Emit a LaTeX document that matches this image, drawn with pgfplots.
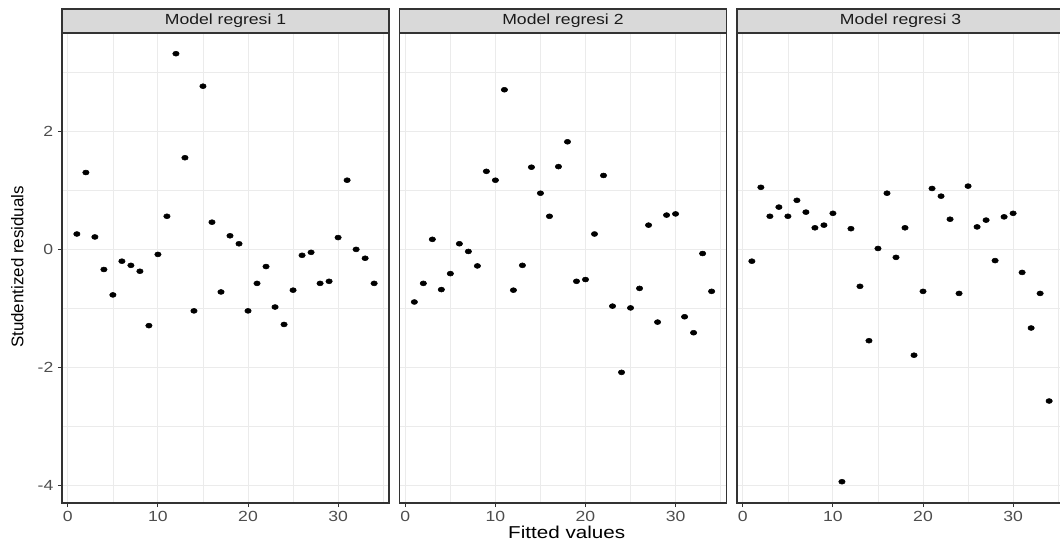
\documentclass[border=0pt]{standalone}
\usepackage{fontspec}
\setmainfont[FakeStretch=1.2]{Liberation Sans}
\newfontfamily\plainsans{Liberation Sans}
\usepackage{pgfplots}
\usepackage{pgfplotstable}
\pgfplotsset{compat=1.18}
\definecolor{grey10}{HTML}{1A1A1A}
\definecolor{grey20}{HTML}{333333}
\definecolor{grey30}{HTML}{4D4D4D}
\definecolor{grey85}{HTML}{D9D9D9}
\definecolor{grey92}{HTML}{EBEBEB}

% studentized residuals per observation, three models
\pgfplotstableread{
i  m1     m2     m3
1  0.26   -0.89  -0.20
2  1.30   -0.575 1.05
3  0.21   0.17   0.56
4  -0.34  -0.68  0.715
5  -0.77  -0.41  0.56
6  -0.20  0.095  0.83
7  -0.27  -0.035 0.63
8  -0.37  -0.28  0.365
9  -1.29  1.32   0.41
10 -0.085 1.17   0.61
11 0.56   2.70   -3.93
12 3.31   -0.69  0.35
13 1.55   -0.27  -0.625
14 -1.04  1.39   -1.545
15 2.76   0.95   0.015
16 0.46   0.56   0.95
17 -0.72  1.40   -0.135
18 0.23   1.82   0.365
19 0.095  -0.54  -1.79
20 -1.04  -0.51  -0.71
21 -0.575 0.26   1.03
22 -0.29  1.25   0.90
23 -0.975 -0.96  0.51
24 -1.27  -2.08  -0.745
25 -0.69  -0.99  1.07
26 -0.10  -0.66  0.38
27 -0.05  0.41   0.495
28 -0.575 -1.23  -0.19
29 -0.54  0.58   0.55
30 0.20   0.60   0.61
31 1.17   -1.14  -0.39
32 0.00   -1.41  -1.33
33 -0.15  -0.07  -0.745
34 -0.575 -0.71  -2.565
}\resid

\pgfplotsset{
  facet/.style={
    scale only axis, width=245.25pt, height=352.5pt,
    xmin=-0.65, xmax=35.65, ymin=-4.29, ymax=3.66,
    xtick={0,10,20,30}, minor xtick={5,15,25,35},
    ytick={-4,-2,0,2}, minor ytick={-3,-1,1,3},
    grid=both,
    major grid style={grey92, line width=0.75pt},
    minor grid style={grey92, line width=0.4pt},
    axis line style={grey20, line width=1pt},
    tick style={grey20, line width=0.75pt},
    tick align=outside, major tick length=3pt, minor tick length=0pt,
    xtick pos=bottom, ytick pos=left,
    ticklabel style={font=\fontsize{11}{13}\selectfont, text=grey30},
    /pgf/number format/assume math mode=true,
  },
  dots/.style={only marks, mark=*, mark size=1.85pt,
    mark options={xscale=1.3, draw=black, fill=black}},
}

\newcommand{\strip}[2]{%
  \draw[fill=grey85, draw=grey20, line width=1pt]
    (#1.north west) rectangle ([yshift=18pt]#1.north east);
  \node[font=\fontsize{11}{13}\selectfont, text=grey10]
    at ([yshift=9pt]#1.north) {#2};
}

\begin{document}
\begin{tikzpicture}
\begin{axis}[facet, name=p1, at={(46.5pt,30pt)}, anchor=south west]
  \addplot[dots] table[x=i, y=m1] {\resid};
\end{axis}
\begin{axis}[facet, name=p2, at={(299.6pt,30pt)}, anchor=south west,
  yticklabels={}, ytick style={draw=none}]
  \addplot[dots] table[x=i, y=m2] {\resid};
\end{axis}
\begin{axis}[facet, name=p3, at={(552.75pt,30pt)}, anchor=south west,
  yticklabels={}, ytick style={draw=none}]
  \addplot[dots] table[x=i, y=m3] {\resid};
\end{axis}
\strip{p1}{Model regresi 1}
\strip{p2}{Model regresi 2}
\strip{p3}{Model regresi 3}
\node[font=\fontsize{12.9}{14}\selectfont, text=black] at (425pt,8pt) {Fitted values};
\node[font=\plainsans\fontsize{12.7}{14}\selectfont, text=black, rotate=90] at (13pt,207pt) {Studentized residuals};
\pgfresetboundingbox
\useasboundingbox (0,0) rectangle (795pt,407.25pt);
\end{tikzpicture}
\end{document}
